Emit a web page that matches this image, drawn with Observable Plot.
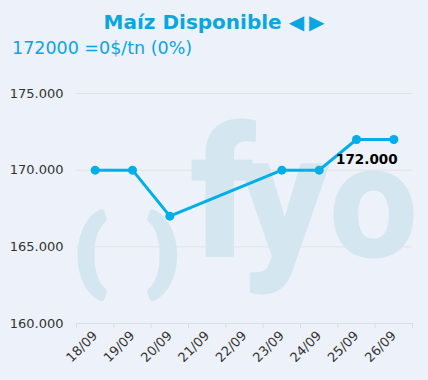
<!DOCTYPE html>
<html>
<head>
<meta charset="utf-8">
<script src="https://cdn.jsdelivr.net/npm/d3@7"></script>
<script src="https://cdn.jsdelivr.net/npm/@observablehq/plot@0.6"></script>
<style>
  html, body { margin: 0; padding: 0; background: #edf1f9; }
  #wrap { position: relative; width: 428px; height: 380px; background: #edf1f9; overflow: hidden; font-family: "DejaVu Sans", Verdana, sans-serif; }
  #title { position: absolute; left: 0; width: 428px; top: 12px; text-align: center; font-size: 20px; line-height: 20px; font-weight: bold; color: #0aa6e0; white-space: nowrap; }
  #title .arr { font-size: 20px; letter-spacing: 5px; margin-right: -5px; }
  #subtitle { position: absolute; left: 12px; top: 40px; font-size: 17.5px; line-height: 17px; color: #0aa6e0; white-space: nowrap; }
  #chart { position: absolute; left: 0; top: 0; }
</style>
</head>
<body>
<div id="wrap">
  <div id="chart"></div>
  <div id="title">Maíz Disponible <span class="arr">◀▶</span></div>
  <div id="subtitle">172000 =0$/tn (0%)</div>
</div>
<script>
const dates = ["18/09", "19/09", "20/09", "21/09", "22/09", "23/09", "24/09", "25/09", "26/09"];
const prices = [170000, 170000, 167000, null, null, 170000, 170000, 172000, 172000];
const yTicks = [160000, 165000, 170000, 175000];
const lastLabel = "172.000";

const data = dates.map((d, i) => ({i, date: d, v: prices[i]})).filter(d => d.v != null);
const last = data[data.length - 1];
const idx = dates.map((d, i) => i);
const bounds = [...idx.map(i => i - 0.5), dates.length - 0.5];
const fmt = d => d3.format(",.0f")(d).replace(/,/g, ".");
const cyan = "#00aee9";
const wm = "#d4e6f0";
const wmStyle = {frameAnchor: "top-left", text: d => d, fontFamily: "Roboto", fontWeight: 700, fill: wm, stroke: wm, textAnchor: "middle"};

const chart = Plot.plot({
  width: 428,
  height: 380,
  marginTop: 93,
  marginBottom: 57,
  marginLeft: 76,
  marginRight: 16,
  style: {background: "transparent", fontFamily: "DejaVu Sans, Verdana, sans-serif", fontSize: "13px", color: "#333"},
  x: {type: "linear", domain: [-0.5, dates.length - 0.5]},
  y: {domain: [160000, 175000]},
  marks: [
    // watermark
    Plot.text(["("], {...wmStyle, dx: 14, dy: 159, fontSize: 83, strokeWidth: 7, lineAnchor: "middle"}),
    Plot.text([")"], {...wmStyle, dx: 87, dy: 159, fontSize: 83, strokeWidth: 7, lineAnchor: "middle"}),
    Plot.text(["f"], {...wmStyle, dx: 146, dy: 161, fontSize: 178, strokeWidth: 3, lineAnchor: "bottom"}),
    Plot.text(["y"], {...wmStyle, dx: 208, dy: 162, fontSize: 172, strokeWidth: 3, lineAnchor: "bottom"}),
    Plot.text(["o"], {...wmStyle, dx: 297, dy: 162, fontSize: 154, strokeWidth: 3, lineAnchor: "bottom"}),
    Plot.gridY(yTicks, {stroke: "#e3e3e3", strokeOpacity: 1}),
    Plot.axisY({ticks: yTicks, tickSize: 0, tickPadding: 13, tickFormat: fmt, fill: "#333", fontSize: 13, label: null}),
    Plot.ruleY([160000], {stroke: "#d8dde6"}),
    Plot.axisX({ticks: bounds, tickSize: 5, tickFormat: () => "", stroke: "#d8dde6", strokeOpacity: 1, label: null}),
    Plot.axisX({ticks: idx, tickSize: 0, tickPadding: 10, tickRotate: -45, tickFormat: i => dates[i], fill: "#333", fontSize: 13, label: null}),
    Plot.line(data, {x: "i", y: "v", stroke: cyan, strokeWidth: 3}),
    Plot.dot(data, {x: "i", y: "v", r: 4.5, fill: cyan}),
    Plot.text([last], {x: "i", y: "v", text: () => lastLabel, dx: -27, dy: 24, lineAnchor: "bottom", textAnchor: "middle", fontWeight: "bold", fontSize: 13.5, fill: "#000"})
  ]
});
document.getElementById("chart").appendChild(chart);
</script>
</body>
</html>
